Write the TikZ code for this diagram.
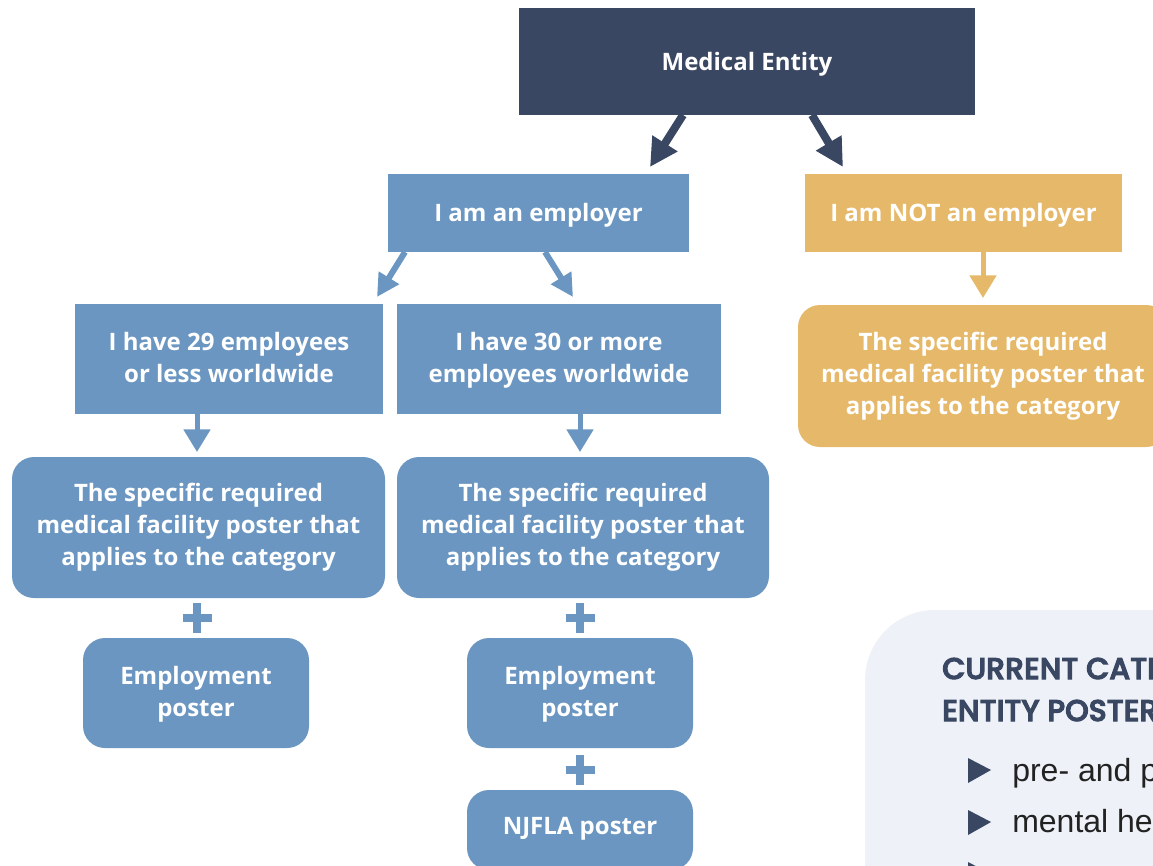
\documentclass[tikz,border=0pt]{standalone}
\usepackage{fontspec}
\setmainfont{Open Sans}
\newfontfamily\headfont{Poppins Medium}
\newfontfamily\bodyfont{Liberation Sans}
\usetikzlibrary{arrows.meta}
\definecolor{navy}{HTML}{394762}
\definecolor{bluebox}{HTML}{6A96C1}
\definecolor{yelbox}{HTML}{E6B96A}
\definecolor{panel}{HTML}{EEF1F7}
\definecolor{bodytext}{HTML}{222222}
\newcommand{\heavytext}[1]{\special{pdf:literal direct 2 Tr 0.8 w}#1\special{pdf:literal direct 0 Tr}}
\tikzset{
  box/.style={inner sep=0pt, align=center, text=white, font=\fontsize{18}{24}\selectfont\bfseries},
  sqbox/.style={box, rectangle},
  rbox/.style={box, rounded corners=16.5pt},
  bigarrow/.style={navy, line width=6pt, -{Triangle[length=21pt,width=21pt]}},
  midarrow/.style={bluebox, line width=4.5pt, -{Triangle[length=17pt,width=17pt]}},
  smallarrow/.style={line width=3.75pt, -{Triangle[length=17pt,width=19.5pt]}},
  plusbar/.style={bluebox, line width=6pt},
  bullettri/.style={navy, fill=navy},
  headtext/.style={anchor=base west, text=navy, font=\headfont\fontsize{22.5}{29}\selectfont, inner sep=0pt},
  bodytxt/.style={anchor=base west, text=bodytext, font=\bodyfont\fontsize{24}{29}\selectfont, inner sep=0pt}
}
\begin{document}
\begin{tikzpicture}[x=0.75pt,y=-0.75pt]
\useasboundingbox (0,0) rectangle (1153,865);
\clip (0,0) rectangle (1153,865);
% panel
\fill[panel, rounded corners=52.5pt] (865,610) rectangle (1400,1100);
\node[headtext] (h1) at (942,679) {\heavytext{CURRENT CATEGORIES OF MEDICAL}};
\node[headtext] (h2) at (942,721) {\heavytext{ENTITY POSTERS}};
\fill[bullettri] (968,758) -- (991,770) -- (968,783) -- cycle;
\fill[bullettri] (968,810) -- (991,822) -- (968,835) -- cycle;
\fill[bullettri] (968,862) -- (991,874) -- (968,887) -- cycle;
\node[bodytxt] (b1) at (1012,781) {pre- and post-natal care};
\node[bodytxt] (b2) at (1012,832) {mental health};

% boxes
\node[sqbox, fill=navy, minimum width=342pt, minimum height=80.25pt] (top) at (747,61.5) {};
\node[box] (topt) at (747,64) {Medical Entity};
\node[sqbox, fill=bluebox, minimum width=225.75pt, minimum height=58.5pt] (emp) at (538.5,213) {};
\node[box] (empt) at (538.5,215) {I am an employer};
\node[sqbox, fill=yelbox, minimum width=237.75pt, minimum height=58.5pt] (notemp) at (963.5,213) {};
\node[box] (notempt) at (963.5,215) {I am NOT an employer};
\node[sqbox, fill=bluebox, minimum width=231pt, minimum height=82.5pt] (e29) at (229,359) {};
\node[box] (e29t) at (229,357) {I have 29 employees\\or less worldwide};
\node[sqbox, fill=bluebox, minimum width=243pt, minimum height=82.5pt] (e30) at (559,359) {};
\node[box, text depth=0pt] (e30t) at (559,357) {I have 30 or more\\employees worldwide};
\node[rbox, fill=yelbox, minimum width=277.5pt, minimum height=106.5pt] (ypost) at (983,376) {The specific required\\medical facility poster that\\applies to the category};
\node[rbox, fill=bluebox, minimum width=279.75pt, minimum height=105.75pt] (p29) at (198.5,527.5) {The specific required\\medical facility poster that\\applies to the category};
\node[rbox, fill=bluebox, minimum width=279pt, minimum height=105.75pt] (p30) at (583,527.5) {The specific required\\medical facility poster that\\applies to the category};
\node[rbox, fill=bluebox, minimum width=169.5pt, minimum height=82.5pt] (emp29) at (196,693) {};
\node[box] (emp29t) at (196,694) {Employment\\poster};
\node[rbox, fill=bluebox, minimum width=169.5pt, minimum height=82.5pt] (emp30) at (580,693) {};
\node[box] (emp30t) at (580,694) {Employment\\poster};
\node[rbox, fill=bluebox, minimum width=169.5pt, minimum height=60pt] (nj) at (580,830) {};
\node[box] (njt) at (580,829) {NJFLA poster};

% arrows
\coordinate (t1) at (650,167);
\coordinate (t2) at (843,167);
\draw[bigarrow] (683,115) -- (t1);
\draw[bigarrow] (812,115) -- (t2);
\coordinate (m1) at (377,297);
\coordinate (m2) at (573,297);
\draw[midarrow] (405,252) -- (m1);
\draw[midarrow] (545,252) -- (m2);
\coordinate (y1) at (983,298);
\draw[smallarrow, yelbox] (983,252) -- (y1);
\coordinate (a1) at (197,452);
\coordinate (a2) at (580,452);
\draw[smallarrow, bluebox] (197,414) -- (a1);
\draw[smallarrow, bluebox] (580,414) -- (a2);

% plus signs
\foreach \px/\py in {197/618, 580/618, 580/770}{
  \draw[plusbar] (\px-14.5,\py) -- (\px+14.5,\py);
  \draw[plusbar] (\px,\py-15) -- (\px,\py+15);
}
\end{tikzpicture}
\end{document}
